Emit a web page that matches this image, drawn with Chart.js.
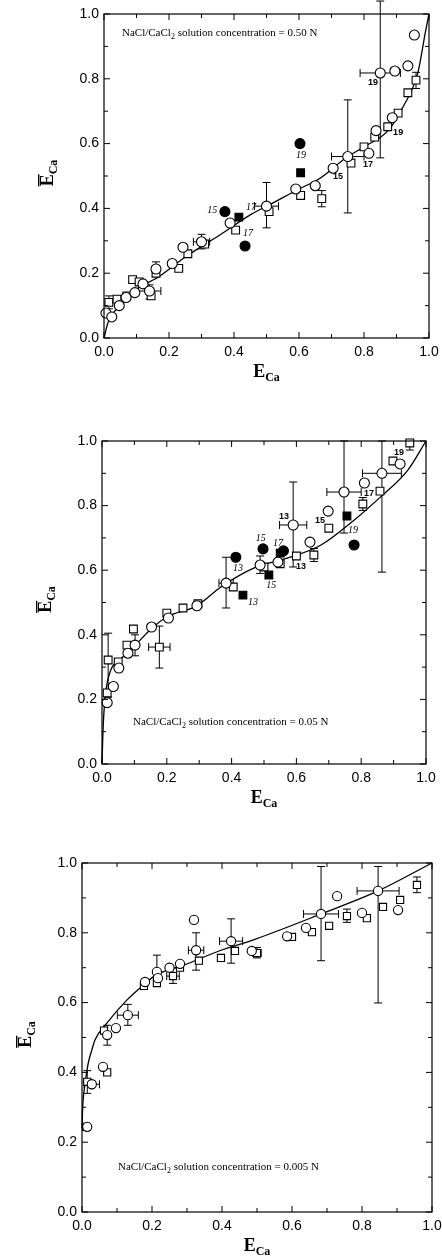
<!DOCTYPE html>
<html>
<head>
<meta charset="utf-8">
<script src="https://cdn.jsdelivr.net/npm/chart.js@4.4.0/dist/chart.umd.min.js"></script>
<style>
  html, body { margin: 0; padding: 0; background: #fff; }
  #wrap { position: relative; width: 442px; height: 1258px; }
  canvas { position: absolute; left: 0; display: block; }
</style>
</head>
<body>
<div id="wrap">
  <canvas id="c1" width="442" height="400" style="top:0px"></canvas>
  <canvas id="c2" width="442" height="410" style="top:410px"></canvas>
  <canvas id="c3" width="442" height="428" style="top:830px"></canvas>
</div>
<script>
// ---- data: panel 1 (0.50 N) ----
const c1Circles = [[0.006,0.077],[0.024,0.065],[0.047,0.10],[0.068,0.125],[0.095,0.14],[0.12,0.167],[0.14,0.145],[0.16,0.213],[0.21,0.23],[0.243,0.28],[0.30,0.297],[0.388,0.355],[0.50,0.407],[0.59,0.46],[0.65,0.47],[0.705,0.524],[0.75,0.56],[0.815,0.57],[0.837,0.64],[0.85,0.818],[0.887,0.68],[0.895,0.824],[0.935,0.84],[0.955,0.935]];
const c1Squares = [[0.015,0.11],[0.04,0.12],[0.07,0.13],[0.088,0.18],[0.108,0.173],[0.145,0.13],[0.16,0.20],[0.23,0.215],[0.258,0.26],[0.31,0.29],[0.405,0.333],[0.508,0.39],[0.605,0.44],[0.67,0.43],[0.76,0.54],[0.80,0.59],[0.833,0.62],[0.873,0.652],[0.905,0.694],[0.935,0.757],[0.96,0.796]];
const c1FilledCircles = [[0.372,0.39],[0.434,0.284],[0.603,0.60]];
const c1FilledSquares = [[0.415,0.373],[0.605,0.51]];
// [x, y, dx, ylow, yhigh]
const c1Err = [[0.015,0.11,0,0.09,0.13],[0.14,0.145,0.035,0.12,0.164],[0.16,0.213,0,0.19,0.235],[0.30,0.297,0.025,0.275,0.32],[0.50,0.407,0.037,0.34,0.48],[0.67,0.43,0,0.405,0.455],[0.75,0.56,0.05,0.386,0.735],[0.85,0.818,0.062,0.556,1.04],[0.96,0.796,0,0.77,0.82]];
const c1Fit = [[0,0],[0.01,0.04],[0.02,0.065],[0.05,0.1],[0.1,0.15],[0.17,0.19],[0.25,0.25],[0.36,0.32],[0.45,0.38],[0.52,0.417],[0.6,0.46],[0.66,0.49],[0.75,0.56],[0.8,0.59],[0.874,0.64],[0.92,0.713],[0.966,0.82],[0.99,0.95],[1,1]];
// [x, y, text, italic]
const c1Labels = [[0.333,0.395,'15',true],[0.452,0.404,'17',true],[0.443,0.324,'17',true],[0.606,0.565,'19',true],[0.72,0.497,'15',false],[0.812,0.534,'17',false],[0.905,0.633,'19',false],[0.828,0.79,'19',false]];

// ---- data: panel 2 (0.05 N) ----
const c2Circles = [[0.016,0.19],[0.035,0.24],[0.052,0.297],[0.08,0.343],[0.102,0.368],[0.153,0.424],[0.205,0.452],[0.293,0.49],[0.383,0.56],[0.488,0.616],[0.543,0.625],[0.59,0.74],[0.642,0.687],[0.698,0.783],[0.747,0.842],[0.81,0.87],[0.864,0.90],[0.92,0.929]];
const c2Squares = [[0.016,0.22],[0.019,0.322],[0.05,0.316],[0.077,0.368],[0.097,0.418],[0.177,0.362],[0.20,0.467],[0.25,0.483],[0.296,0.496],[0.405,0.548],[0.50,0.61],[0.55,0.62],[0.60,0.644],[0.654,0.647],[0.70,0.73],[0.805,0.805],[0.858,0.845],[0.898,0.938],[0.95,0.994]];
const c2FilledCircles = [[0.413,0.64],[0.497,0.666],[0.56,0.66],[0.778,0.678]];
const c2FilledSquares = [[0.435,0.523],[0.515,0.585],[0.55,0.653],[0.756,0.768]];
const c2Err = [[0.019,0.322,0,0.207,0.405],[0.102,0.368,0,0.335,0.40],[0.177,0.362,0.033,0.297,0.427],[0.383,0.56,0.022,0.483,0.64],[0.488,0.616,0,0.59,0.644],[0.59,0.74,0.042,0.61,0.873],[0.654,0.647,0,0.627,0.667],[0.747,0.842,0.053,0.715,1.0],[0.805,0.805,0,0.785,0.825],[0.864,0.90,0.06,0.594,1.0],[0.95,0.994,0,0.972,1.0]];
const c2Fit = [[0,0],[0.003,0.1],[0.009,0.2],[0.025,0.285],[0.055,0.322],[0.097,0.362],[0.154,0.42],[0.2,0.455],[0.293,0.49],[0.367,0.548],[0.47,0.607],[0.574,0.638],[0.676,0.678],[0.778,0.755],[0.86,0.827],[0.944,0.91],[1,1]];
const c2Labels = [[0.917,0.963,'19',false],[0.824,0.836,'17',false],[0.775,0.724,'19',true],[0.673,0.755,'15',false],[0.562,0.765,'13',false],[0.614,0.61,'13',false],[0.49,0.70,'15',true],[0.543,0.684,'17',true],[0.522,0.554,'15',true],[0.42,0.607,'13',true],[0.466,0.50,'13',true]];

// ---- data: panel 3 (0.005 N) ----
const c3Circles = [[0.015,0.244],[0.028,0.366],[0.06,0.416],[0.072,0.507],[0.097,0.527],[0.131,0.564],[0.18,0.659],[0.214,0.688],[0.217,0.67],[0.25,0.70],[0.28,0.711],[0.32,0.837],[0.326,0.75],[0.426,0.776],[0.485,0.748],[0.586,0.79],[0.64,0.814],[0.683,0.854],[0.729,0.905],[0.80,0.857],[0.846,0.92],[0.903,0.865]];
const c3Squares = [[0.012,0.244],[0.015,0.373],[0.063,0.52],[0.072,0.40],[0.177,0.648],[0.214,0.656],[0.26,0.676],[0.28,0.70],[0.334,0.72],[0.397,0.728],[0.437,0.748],[0.50,0.742],[0.60,0.788],[0.657,0.802],[0.706,0.82],[0.757,0.848],[0.814,0.842],[0.86,0.874],[0.909,0.894],[0.957,0.937]];
const c3Err = [[0.015,0.373,0,0.34,0.405],[0.028,0.366,0.022,null,null],[0.072,0.507,0,0.478,0.535],[0.131,0.564,0.03,0.535,0.595],[0.214,0.688,0,0.665,0.736],[0.26,0.676,0.018,0.655,0.70],[0.326,0.75,0.022,0.693,0.80],[0.426,0.776,0.033,0.713,0.84],[0.50,0.742,0.012,0.728,0.758],[0.683,0.854,0.05,0.72,0.99],[0.757,0.848,0,0.83,0.868],[0.846,0.92,0.06,0.599,0.99],[0.957,0.937,0,0.915,0.96]];
const c3Fit = [[0,0.24],[0.002,0.3],[0.009,0.37],[0.018,0.427],[0.028,0.464],[0.037,0.493],[0.07,0.54],[0.128,0.607],[0.175,0.65],[0.213,0.68],[0.29,0.707],[0.397,0.75],[0.49,0.78],[0.683,0.854],[0.846,0.92],[1,1]];

const xTicks = [0, 0.2, 0.4, 0.6, 0.8, 1.0];

function pts(arr) { return arr.map(p => ({ x: p[0], y: p[1] })); }

// plugin: frame, inward ticks, error bars, labels, axis titles, note text
const figDecor = {
    id: 'figDecor',
    beforeDatasetsDraw(chart, args, opts) {
        const ctx = chart.ctx, xs = chart.scales.x, ys = chart.scales.y;
        ctx.save();
        ctx.strokeStyle = '#000';
        ctx.lineWidth = 1;
        const cap = 4;
        (opts.errors || []).forEach(e => {
            const px = xs.getPixelForValue(e[0]), py = ys.getPixelForValue(e[1]);
            if (e[2]) {
                const x1 = xs.getPixelForValue(e[0] - e[2]), x2 = xs.getPixelForValue(e[0] + e[2]);
                ctx.beginPath();
                ctx.moveTo(x1, py); ctx.lineTo(x2, py);
                ctx.moveTo(x1, py - cap); ctx.lineTo(x1, py + cap);
                ctx.moveTo(x2, py - cap); ctx.lineTo(x2, py + cap);
                ctx.stroke();
            }
            if (e[3] !== null) {
                const y1 = ys.getPixelForValue(e[3]), y2 = ys.getPixelForValue(e[4]);
                ctx.beginPath();
                ctx.moveTo(px, y1); ctx.lineTo(px, y2);
                ctx.moveTo(px - cap, y1); ctx.lineTo(px + cap, y1);
                ctx.moveTo(px - cap, y2); ctx.lineTo(px + cap, y2);
                ctx.stroke();
            }
        });
        ctx.restore();
    },
    afterDraw(chart, args, opts) {
        const ctx = chart.ctx, a = chart.chartArea, xs = chart.scales.x, ys = chart.scales.y;
        ctx.save();
        ctx.strokeStyle = '#000';
        ctx.fillStyle = '#000';
        ctx.lineWidth = 1.2;
        ctx.strokeRect(a.left, a.top, a.right - a.left, a.bottom - a.top);

        // inward ticks, major every 0.2, minor every 0.1
        ctx.lineWidth = 1;
        ctx.beginPath();
        for (let i = 0; i <= 10; i++) {
            const L = i % 2 === 0 ? 6 : 4;
            const px = xs.getPixelForValue(i / 10), py = ys.getPixelForValue(i / 10);
            ctx.moveTo(px, a.bottom); ctx.lineTo(px, a.bottom - L);
            ctx.moveTo(px, a.top); ctx.lineTo(px, a.top + L);
            ctx.moveTo(a.left, py); ctx.lineTo(a.left + L, py);
            ctx.moveTo(a.right, py); ctx.lineTo(a.right - L, py);
        }
        ctx.stroke();

        // point labels
        ctx.textAlign = 'center';
        ctx.textBaseline = 'middle';
        (opts.labels || []).forEach(l => {
            ctx.font = l[3] ? 'italic 10px "Liberation Serif"' : 'bold 9px "Liberation Sans"';
            ctx.fillText(l[2], xs.getPixelForValue(l[0]), ys.getPixelForValue(l[1]));
        });

        // note: NaCl/CaCl2 solution concentration = ...
        ctx.textAlign = 'left';
        ctx.textBaseline = 'alphabetic';
        let nx = a.left + opts.noteDx;
        const ny = opts.noteFromTop ? a.top + opts.noteDy : a.bottom - opts.noteDy;
        ctx.font = '11px "Liberation Serif"';
        ctx.fillText('NaCl/CaCl', nx, ny);
        nx += ctx.measureText('NaCl/CaCl').width;
        ctx.font = '8px "Liberation Serif"';
        ctx.fillText('2', nx, ny + 3);
        nx += ctx.measureText('2').width;
        ctx.font = '11px "Liberation Serif"';
        ctx.fillText(' solution concentration = ' + opts.conc, nx, ny);

        // x title E_Ca
        const cx = (a.left + a.right) / 2;
        ctx.font = 'bold 18px "Liberation Serif"';
        const wE = ctx.measureText('E').width;
        ctx.font = 'bold 12px "Liberation Serif"';
        const wC = ctx.measureText('Ca').width;
        let tx = cx - (wE + wC) / 2;
        const tb = a.bottom + 39;
        ctx.font = 'bold 18px "Liberation Serif"';
        ctx.fillText('E', tx, tb);
        ctx.font = 'bold 12px "Liberation Serif"';
        ctx.fillText('Ca', tx + wE, tb + 4);

        // y title E-bar_Ca, rotated
        ctx.translate(a.left - 51, (a.top + a.bottom) / 2 - 3);
        ctx.rotate(-Math.PI / 2);
        tx = -(wE + wC) / 2;
        ctx.font = 'bold 18px "Liberation Serif"';
        ctx.fillText('E', tx, 0);
        ctx.fillRect(tx, -15, wE, 1.4);
        ctx.font = 'bold 12px "Liberation Serif"';
        ctx.fillText('Ca', tx + wE, 4);
        ctx.restore();
    }
};

function makeChart(id, box, sets, decor) {
    const markers = [
        { data: pts(sets.circles), pointStyle: 'circle', pointRadius: box.r, backgroundColor: '#fff' },
        { data: pts(sets.squares), pointStyle: 'rect', pointRadius: box.r * 1.1, backgroundColor: '#fff' },
        { data: pts(sets.filledCircles || []), pointStyle: 'circle', pointRadius: box.r, backgroundColor: '#000' },
        { data: pts(sets.filledSquares || []), pointStyle: 'rect', pointRadius: box.r * 1.1, backgroundColor: '#000' }
    ].map(d => Object.assign(d, { borderColor: '#000', borderWidth: 1.1, showLine: false, clip: false }));

    markers.push({
        data: pts(sets.fit), showLine: true, pointRadius: 0, borderColor: '#000',
        borderWidth: 1.3, cubicInterpolationMode: 'monotone', clip: false
    });

    const tickFont = { family: 'Liberation Sans', size: 14 };
    return new Chart(document.getElementById(id), {
        type: 'scatter',
        data: { datasets: markers },
        plugins: [figDecor],
        options: {
            responsive: false,
            animation: false,
            events: [],
            layout: { padding: { top: box.padTop, right: box.padRight, left: 0, bottom: 0 } },
            plugins: { legend: { display: false }, tooltip: { enabled: false }, figDecor: decor },
            scales: {
                x: {
                    type: 'linear', min: 0, max: 1,
                    afterBuildTicks: s => { s.ticks = xTicks.map(v => ({ value: v })); },
                    ticks: { callback: v => v.toFixed(1), font: tickFont, color: '#000', padding: 6, maxRotation: 0, autoSkip: false },
                    grid: { display: false, drawTicks: false },
                    border: { display: false },
                    afterFit: s => { s.height = box.xh; s.paddingLeft = 0; s.paddingRight = 0; }
                },
                y: {
                    type: 'linear', min: 0, max: 1,
                    afterBuildTicks: s => { s.ticks = xTicks.map(v => ({ value: v })); },
                    ticks: { callback: v => v.toFixed(1), font: tickFont, color: '#000', padding: 5, autoSkip: false },
                    grid: { display: false, drawTicks: false },
                    border: { display: false },
                    afterFit: s => { s.width = box.yw; s.paddingTop = 0; s.paddingBottom = 0; }
                }
            }
        }
    });
}

makeChart('c1', { padTop: 14, padRight: 13, xh: 62, yw: 104, r: 5 },
    { circles: c1Circles, squares: c1Squares, filledCircles: c1FilledCircles, filledSquares: c1FilledSquares, fit: c1Fit },
    { errors: c1Err, labels: c1Labels, conc: '0.50 N', noteDx: 18, noteDy: 22, noteFromTop: true });

makeChart('c2', { padTop: 31, padRight: 16, xh: 56, yw: 102, r: 5 },
    { circles: c2Circles, squares: c2Squares, filledCircles: c2FilledCircles, filledSquares: c2FilledSquares, fit: c2Fit },
    { errors: c2Err, labels: c2Labels, conc: '0.05 N', noteDx: 31, noteDy: 39, noteFromTop: false });

makeChart('c3', { padTop: 33, padRight: 10, xh: 46, yw: 82, r: 4.6 },
    { circles: c3Circles, squares: c3Squares, fit: c3Fit },
    { errors: c3Err, labels: [], conc: '0.005 N', noteDx: 36, noteDy: 42, noteFromTop: false });
</script>
</body>
</html>
